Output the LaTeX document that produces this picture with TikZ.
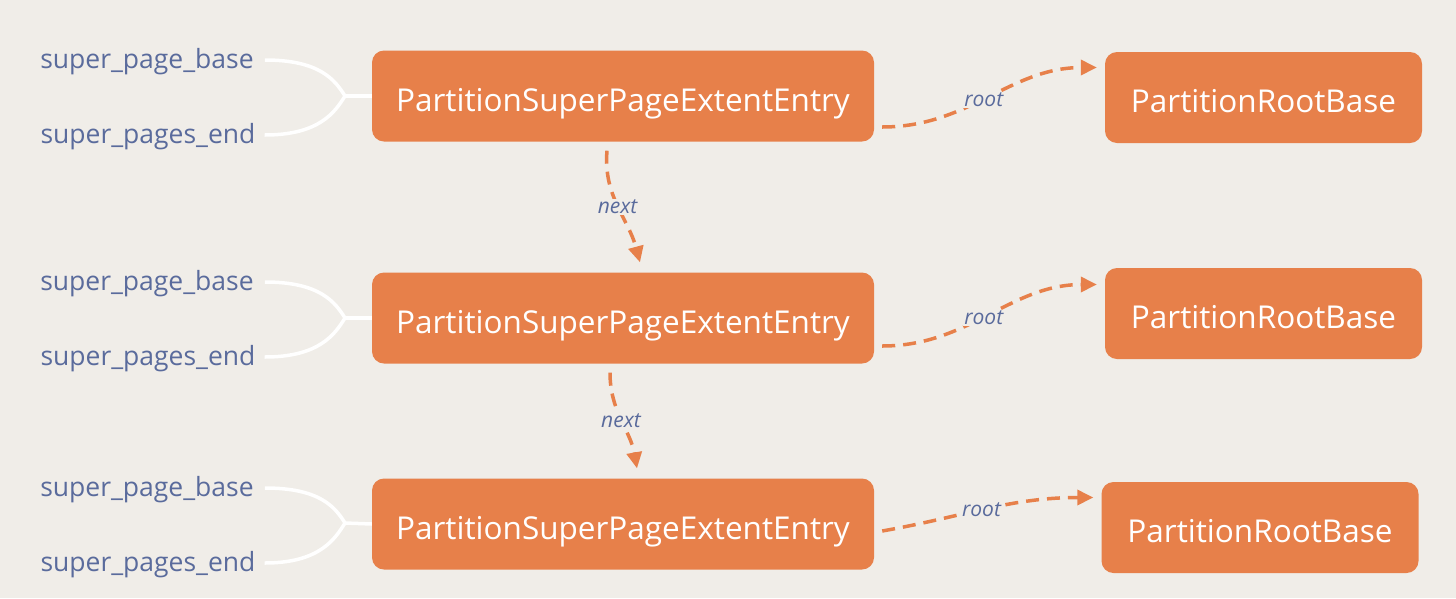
\documentclass[tikz,border=0pt]{standalone}
\usepackage{fontspec}
\setmainfont{Open Sans}
\usetikzlibrary{arrows.meta}
\definecolor{bg}{HTML}{F0EDE8}
\definecolor{org}{HTML}{E7804A}
\definecolor{lbl}{HTML}{5A6B9C}
\tikzset{
  mainbox/.style={fill=org, rounded corners=12pt, minimum width=502pt, minimum height=91pt, text=white, font=\fontsize{31.5}{36}\selectfont, inner sep=0pt, text height=31pt, text depth=0pt},
  rootbox/.style={fill=org, rounded corners=12pt, minimum width=317pt, minimum height=91pt, text=white, font=\fontsize{31.5}{36}\selectfont, inner sep=0pt, text height=30pt, text depth=0pt},
  fieldlbl/.style={text=lbl, font=\fontsize{26.5}{30}\selectfont, inner sep=0pt},
  bracket/.style={draw=white, line width=3.5pt},
  link/.style={draw=org, line width=3.5pt, dash pattern=on 13pt off 8pt, -{Triangle[length=16pt,width=15pt]}},
  linklbl/.style={text=lbl, font=\fontsize{21}{24}\selectfont\itshape, fill=bg, inner sep=1pt}
}
\begin{document}
\begin{tikzpicture}[x=1pt,y=-1pt]
\fill[bg] (0,0) rectangle (1456,598);
\useasboundingbox (0,0) rectangle (1456,598);

% main boxes
\node[mainbox] (m1) at (623,96) {PartitionSuperPageExtentEntry};
\node[mainbox] (m2) at (623,318) {PartitionSuperPageExtentEntry};
\node[mainbox] (m3) at (623,524) {PartitionSuperPageExtentEntry};

% root boxes
\node[rootbox] (r1) at (1263.5,97.5) {PartitionRootBase};
\node[rootbox] (r2) at (1263.5,313.5) {PartitionRootBase};
\node[rootbox] (r3) at (1260,527.5) {PartitionRootBase};

% field labels
\node[fieldlbl] (b1) at (147,62) {super\_page\_base};
\node[fieldlbl] (e1) at (148,137) {super\_pages\_end};
\node[fieldlbl] (b2) at (147,284) {super\_page\_base};
\node[fieldlbl] (e2) at (148,359) {super\_pages\_end};
\node[fieldlbl] (b3) at (147,490) {super\_page\_base};
\node[fieldlbl] (e3) at (148,565) {super\_pages\_end};

% junctions
\coordinate (j1) at (345,96);
\coordinate (j2) at (345,318);
\coordinate (j3) at (345,523);

\foreach \b/\e/\j/\m in {b1/e1/j1/m1, b2/e2/j2/m2, b3/e3/j3/m3}{
  \draw[bracket] ([xshift=11pt,yshift=2pt]\b.east) .. controls +(55,0) and +(-10,-16) .. (\j);
  \draw[bracket] ([xshift=9pt,yshift=2pt]\e.east) .. controls +(55,0) and +(-10,16) .. (\j);
  \draw[bracket] (\j) -- (\m.west);
}

% next links
\draw[link] ([xshift=-16pt,yshift=-9pt]m1.south) to[out=-95,in=105] node[linklbl]{next} ([xshift=17pt,yshift=10pt]m2.north);
\draw[link] ([xshift=-13pt,yshift=-9pt]m2.south) to[out=-90,in=100] node[linklbl]{next} ([xshift=14pt,yshift=10pt]m3.north);

% root links
\draw[link] ([xshift=8pt,yshift=-31pt]m1.east) to[out=0,in=180] node[linklbl,pos=0.47]{root} ([xshift=-8pt,yshift=30pt]r1.west);
\draw[link] ([xshift=8pt,yshift=-28pt]m2.east) to[out=0,in=180] node[linklbl,pos=0.47]{root} ([xshift=-8pt,yshift=29pt]r2.west);
\draw[link] ([xshift=8pt,yshift=-7pt]m3.east) to[out=10,in=180] node[linklbl,pos=0.47]{root} ([xshift=-8pt,yshift=30pt]r3.west);
\end{tikzpicture}
\end{document}
